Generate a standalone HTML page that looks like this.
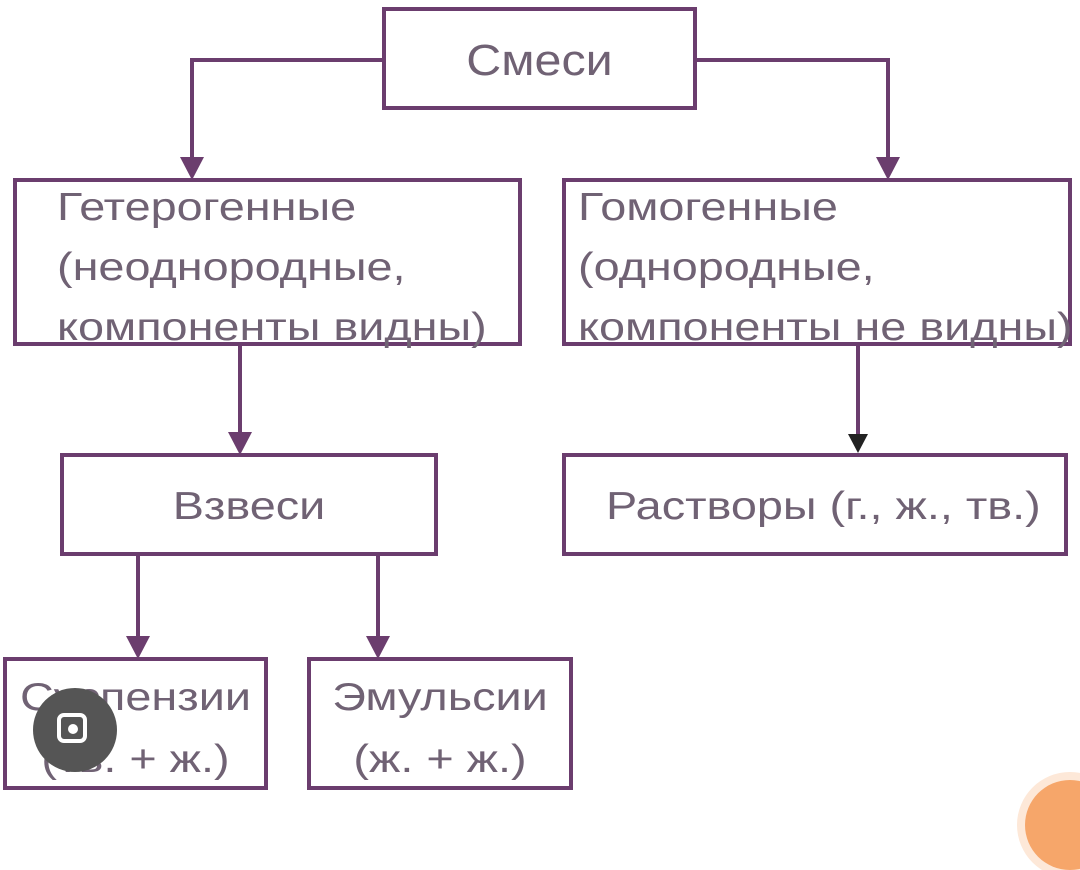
<!DOCTYPE html>
<html><head><meta charset="utf-8"><style>
body{margin:0;width:1080px;height:799px;background:#fff;position:relative;overflow:hidden;font-family:"Liberation Sans",sans-serif;color:#706274}
.b{position:absolute;border:4px solid #6b3d6e;box-sizing:border-box;background:#fff}
.t{position:absolute;font-size:39px;line-height:60px;white-space:nowrap;transform:scaleX(1.2);transform-origin:left top}
.c{text-align:center;width:100%;left:0;transform-origin:center top}
</style></head><body>
<svg width="1080" height="799" style="position:absolute;left:0;top:0">
<g stroke="#6b3d6e" stroke-width="4" fill="none">
<polyline points="384,60 192,60 192,162"/>
<polyline points="695,60 888,60 888,162"/>
<line x1="240" y1="346" x2="240" y2="437"/>
<line x1="858" y1="346" x2="858" y2="437"/>
<line x1="138" y1="556" x2="138" y2="641"/>
<line x1="378" y1="556" x2="378" y2="641"/>
</g>
<g fill="#6b3d6e">
<polygon points="180,157 204,157 192,180"/>
<polygon points="876,157 900,157 888,180"/>
<polygon points="228,432 252,432 240,455"/>
<polygon points="848,434 868,434 858,453" fill="#222"/>
<polygon points="126,636 150,636 138,659"/>
<polygon points="366,636 390,636 378,659"/>
</g>
</svg>
<div class="b" style="left:382px;top:7px;width:315px;height:103px"><div class="t c" style="top:20px;font-size:44px;transform:scaleX(1.1)">Смеси</div></div>
<div class="b" style="left:13px;top:178px;width:509px;height:168px"><div class="t" style="left:40px;top:-4px">Гетерогенные<br>(неоднородные,<br>компоненты видны)</div></div>
<div class="b" style="left:562px;top:178px;width:510px;height:168px"><div class="t" style="left:12px;top:-4px">Гомогенные<br>(однородные,<br>компоненты не видны)</div></div>
<div class="b" style="left:60px;top:453px;width:378px;height:103px"><div class="t c" style="top:20px">Взвеси</div></div>
<div class="b" style="left:562px;top:453px;width:506px;height:103px"><div class="t" style="left:40px;top:20px">Растворы (г., ж., тв.)</div></div>
<div class="b" style="left:3px;top:657px;width:265px;height:133px"><div class="t c" style="top:6px;line-height:62px">Суспензии<br>(тв. + ж.)</div></div>
<div class="b" style="left:307px;top:657px;width:266px;height:133px"><div class="t c" style="top:6px;line-height:62px">Эмульсии<br>(ж. + ж.)</div></div>
<div style="position:absolute;left:33px;top:688px;width:84px;height:84px;border-radius:50%;background:#555"></div>
<div style="position:absolute;left:57px;top:713px;width:30px;height:30px;border:4px solid #fff;border-radius:7px;box-sizing:border-box"></div>
<div style="position:absolute;left:68px;top:724px;width:10px;height:10px;border-radius:50%;background:#fff"></div>
<div style="position:absolute;left:1025px;top:780px;width:90px;height:90px;border-radius:50%;background:#f6a66a;box-shadow:0 0 0 8px #fde8d8"></div>
</body></html>
